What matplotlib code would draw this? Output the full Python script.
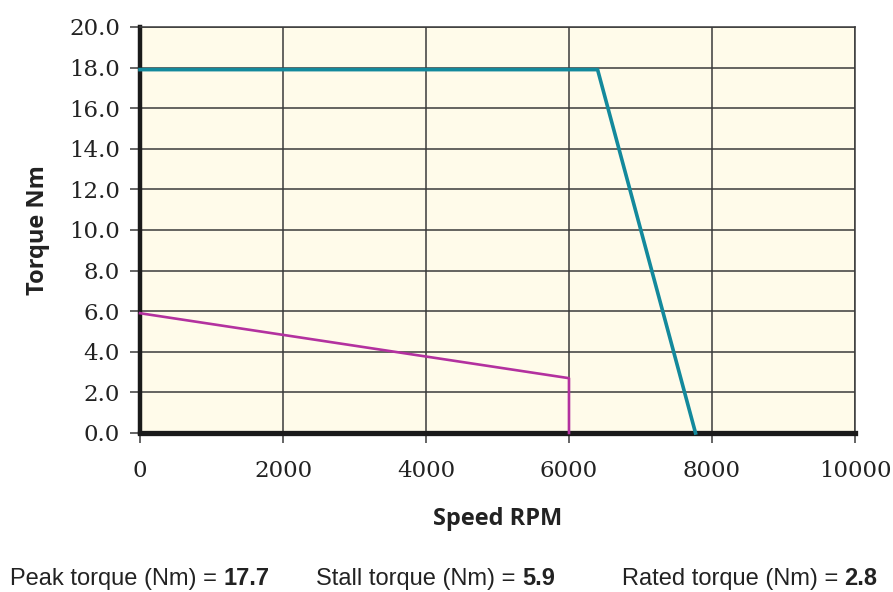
import matplotlib.pyplot as plt

# data
peak_speed = [0, 6400, 7770]
peak_torque = [17.9, 17.9, 0.0]
cont_speed = [0, 6000, 6000]
cont_torque = [5.9, 2.7, 0.0]

x_ticks = [0, 2000, 4000, 6000, 8000, 10000]
y_ticks = [0, 2, 4, 6, 8, 10, 12, 14, 16, 18, 20]

summary = [('Peak torque (Nm) = ', '17.7'),
           ('Stall torque (Nm) = ', '5.9'),
           ('Rated torque (Nm) = ', '2.8')]
summary_x = [0.011, 0.354, 0.696]

fig = plt.figure(figsize=(8.93, 5.92), dpi=100)
ax = fig.add_axes([0.1568, 0.2686, 0.8006, 0.6858])
ax.set_facecolor('#fffbea')

ax.plot(peak_speed, peak_torque, color='#13899c', linewidth=2.6, zorder=3, clip_on=False)
ax.plot(cont_speed, cont_torque, color='#b3319f', linewidth=1.9, zorder=3, clip_on=False)

serif = ['DejaVu Serif']
ax.set_xlim(0, 10000)
ax.set_ylim(0, 20)
ax.set_xticks(x_ticks)
ax.set_xticklabels([str(v) for v in x_ticks], fontsize=16.5, family=serif, color='#222222')
ax.set_yticks(y_ticks)
ax.set_yticklabels([f'{v:.1f}' for v in y_ticks], fontsize=16.5, family=serif, color='#222222')
ax.grid(True, color='#3a3a3a', linewidth=1.1)
ax.set_axisbelow(True)

for s in ['top', 'right']:
    ax.spines[s].set_color('#3a3a3a')
    ax.spines[s].set_linewidth(1.1)
ax.spines['left'].set_linewidth(3.2)
ax.spines['bottom'].set_linewidth(3.8)
ax.spines['left'].set_color('#1a1a1a')
ax.spines['bottom'].set_color('#1a1a1a')

ax.tick_params(axis='both', length=7.5, width=1.1, color='#3a3a3a')
ax.tick_params(axis='x', pad=12)
ax.tick_params(axis='y', pad=7)

ax.set_xlabel('Speed RPM', fontsize=17, fontweight='bold', color='#222222',
              family=['Open Sans', 'DejaVu Sans'], labelpad=18)
ax.set_ylabel('Torque Nm', fontsize=17, fontweight='bold', color='#222222',
              family=['Open Sans', 'DejaVu Sans'], labelpad=14)

sans = ['Liberation Sans', 'DejaVu Sans']
for (label, value), x in zip(summary, summary_x):
    t = fig.text(x, 0.012, label, fontsize=17, color='#222222', family=sans,
                 va='baseline')
    ax.annotate(value, xy=(1, 0), xycoords=t, va='bottom', ha='left',
                fontsize=17, fontweight='bold', color='#222222', family=sans,
                annotation_clip=False)

plt.savefig('out.png', dpi=100)
plt.close()
